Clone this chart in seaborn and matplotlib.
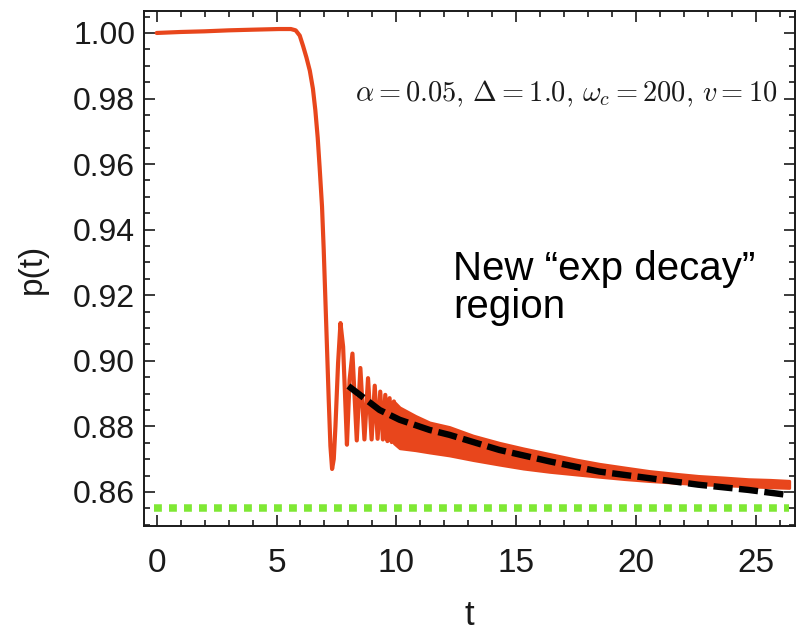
import numpy as np
import pandas as pd
import matplotlib
matplotlib.use("Agg")
import matplotlib.pyplot as plt
from matplotlib.ticker import MultipleLocator, FormatStrFormatter
import seaborn as sns

# p(t): plateau, sharp drop and the first resolved oscillations
t_curve = [0.0, 1.0, 2.0, 3.0, 4.0, 5.1, 5.6, 5.8, 5.97, 6.11, 6.25, 6.39, 6.52, 6.62,
           6.72, 6.8, 6.9, 6.97, 7.08, 7.18, 7.25, 7.32, 7.39, 7.46, 7.57, 7.67, 7.78,
           7.89, 7.94, 8.05, 8.17, 8.35, 8.5, 8.67, 8.82, 8.97, 9.1, 9.22, 9.33, 9.44,
           9.54, 9.63, 9.72, 9.81, 9.9]
p_curve = [1.0000, 1.0003, 1.0005, 1.0008, 1.0010, 1.0012, 1.0012, 1.0008, 0.9992,
           0.9960, 0.9925, 0.9885, 0.9830, 0.9765, 0.9680, 0.9590, 0.9470, 0.9340,
           0.9100, 0.8880, 0.8740, 0.8670, 0.8700, 0.8800, 0.8993, 0.9115, 0.9043,
           0.8840, 0.8744, 0.8942, 0.9022, 0.8757, 0.8978, 0.8760, 0.8947, 0.8760,
           0.8924, 0.8762, 0.8906, 0.8760, 0.8896, 0.8755, 0.8886, 0.8752, 0.8876]

# envelope of the fast oscillations from t = 9.9 onward
t_band = [9.9, 10.14, 10.8, 11.39, 12.22, 13.2, 14.3, 15.3, 16.4, 17.5, 18.47,
          19.5, 20.55, 21.6, 22.6, 23.7, 24.7, 25.6, 26.4]
p_band_hi = [0.8876, 0.8858, 0.8832, 0.8812, 0.8798, 0.8772, 0.8750, 0.8733, 0.8716,
             0.8699, 0.8686, 0.8675, 0.8664, 0.8656, 0.8649, 0.8644, 0.8639, 0.8637, 0.8634]
p_band_lo = [0.8748, 0.8733, 0.8727, 0.8720, 0.8711, 0.8697, 0.8683, 0.8671, 0.8661,
             0.8653, 0.8646, 0.8639, 0.8633, 0.8628, 0.8623, 0.8620, 0.8617, 0.8614, 0.8612]

# exponential-decay fit
t_fit = [8.0, 9.3, 10.14, 11.39, 12.22, 14.3, 16.4, 18.47, 20.55, 22.6, 24.7, 26.3]
p_fit = [0.8923, 0.8850, 0.8820, 0.8789, 0.8774, 0.8728, 0.8693, 0.8662, 0.8642, 0.8622, 0.8606, 0.8591]

# asymptotic level
t_asym = [-0.1, 26.4]
p_asym = [0.855, 0.855]

x_ticks = [0, 5, 10, 15, 20, 25]
y_ticks = [0.86, 0.88, 0.90, 0.92, 0.94, 0.96, 0.98, 1.00]

RED = "#e8461c"
GREEN = "#7fe834"
INK = "#1a1a1a"

sns.set_theme(style="ticks")
plt.rcParams["font.family"] = ["Liberation Sans", "DejaVu Sans"]
plt.rcParams["mathtext.fontset"] = "cm"

W, H = 798, 638
fig = plt.figure(figsize=(W / 100, H / 100), dpi=100)
ax = fig.add_axes([143.5 / W, 1 - 526 / H, (795 - 143.5) / W, (526 - 11) / H])

df_curve = pd.DataFrame({"t": t_curve, "p": p_curve})
df_fit = pd.DataFrame({"t": t_fit, "p": p_fit})
df_asym = pd.DataFrame({"t": t_asym, "p": p_asym})

ax.fill_between(t_band, p_band_lo, p_band_hi, color=RED, lw=2.0, zorder=2)
sns.lineplot(data=df_curve, x="t", y="p", ax=ax, color=RED, lw=3.0,
             sort=False, estimator=None, zorder=3)
g = sns.lineplot(data=df_asym, x="t", y="p", ax=ax, color=GREEN, lw=5.4,
                 estimator=None, zorder=3).lines[-1]
g.set_dashes((1.05, 0.95))
g.set_dash_capstyle("butt")
ln = sns.lineplot(data=df_fit, x="t", y="p", ax=ax, color="black", lw=4.6,
                  estimator=None, zorder=4).lines[-1]
ln.set_dashes((3.0, 1.0))
ln.set_dash_capstyle("butt")

ax.set_xlim(-0.551, 26.64)
ax.set_ylim(0.8496, 1.0067)
ax.set_xticks(x_ticks)
ax.set_yticks(y_ticks)
ax.xaxis.set_minor_locator(MultipleLocator(1))
ax.yaxis.set_minor_locator(MultipleLocator(0.005))
ax.yaxis.set_major_formatter(FormatStrFormatter("%.2f"))
ax.xaxis.set_ticks_position("both")
ax.yaxis.set_ticks_position("both")

for s in ax.spines.values():
    s.set_visible(True)
    s.set_linewidth(1.4)
    s.set_color(INK)
ax.tick_params(which="both", direction="in", top=True, right=True,
               color=INK, width=1.2, labelcolor=INK)
ax.tick_params(which="major", length=8, labelsize=23, pad=6)
ax.tick_params(which="minor", length=4.5)
ax.tick_params(axis="x", which="major", labelsize=24, pad=16)

ax.set_xlabel("t", fontsize=25, labelpad=14, color=INK)
ax.set_ylabel("p(t)", fontsize=24, labelpad=18, color=INK)

fig.text(777 / W, 1 - 94 / H,
         r"$\alpha = 0.05,\, \Delta = 1.0,\, \omega_c = 200,\, v = 10$",
         fontsize=20.5, ha="right", va="center", color=INK)
fig.text(453 / W, 1 - 250 / H, "New \u201cexp decay\u201d\nregion",
         fontsize=29, ha="left", va="top", linespacing=1.0, color="black")

fig.savefig("out.png", dpi=100)
